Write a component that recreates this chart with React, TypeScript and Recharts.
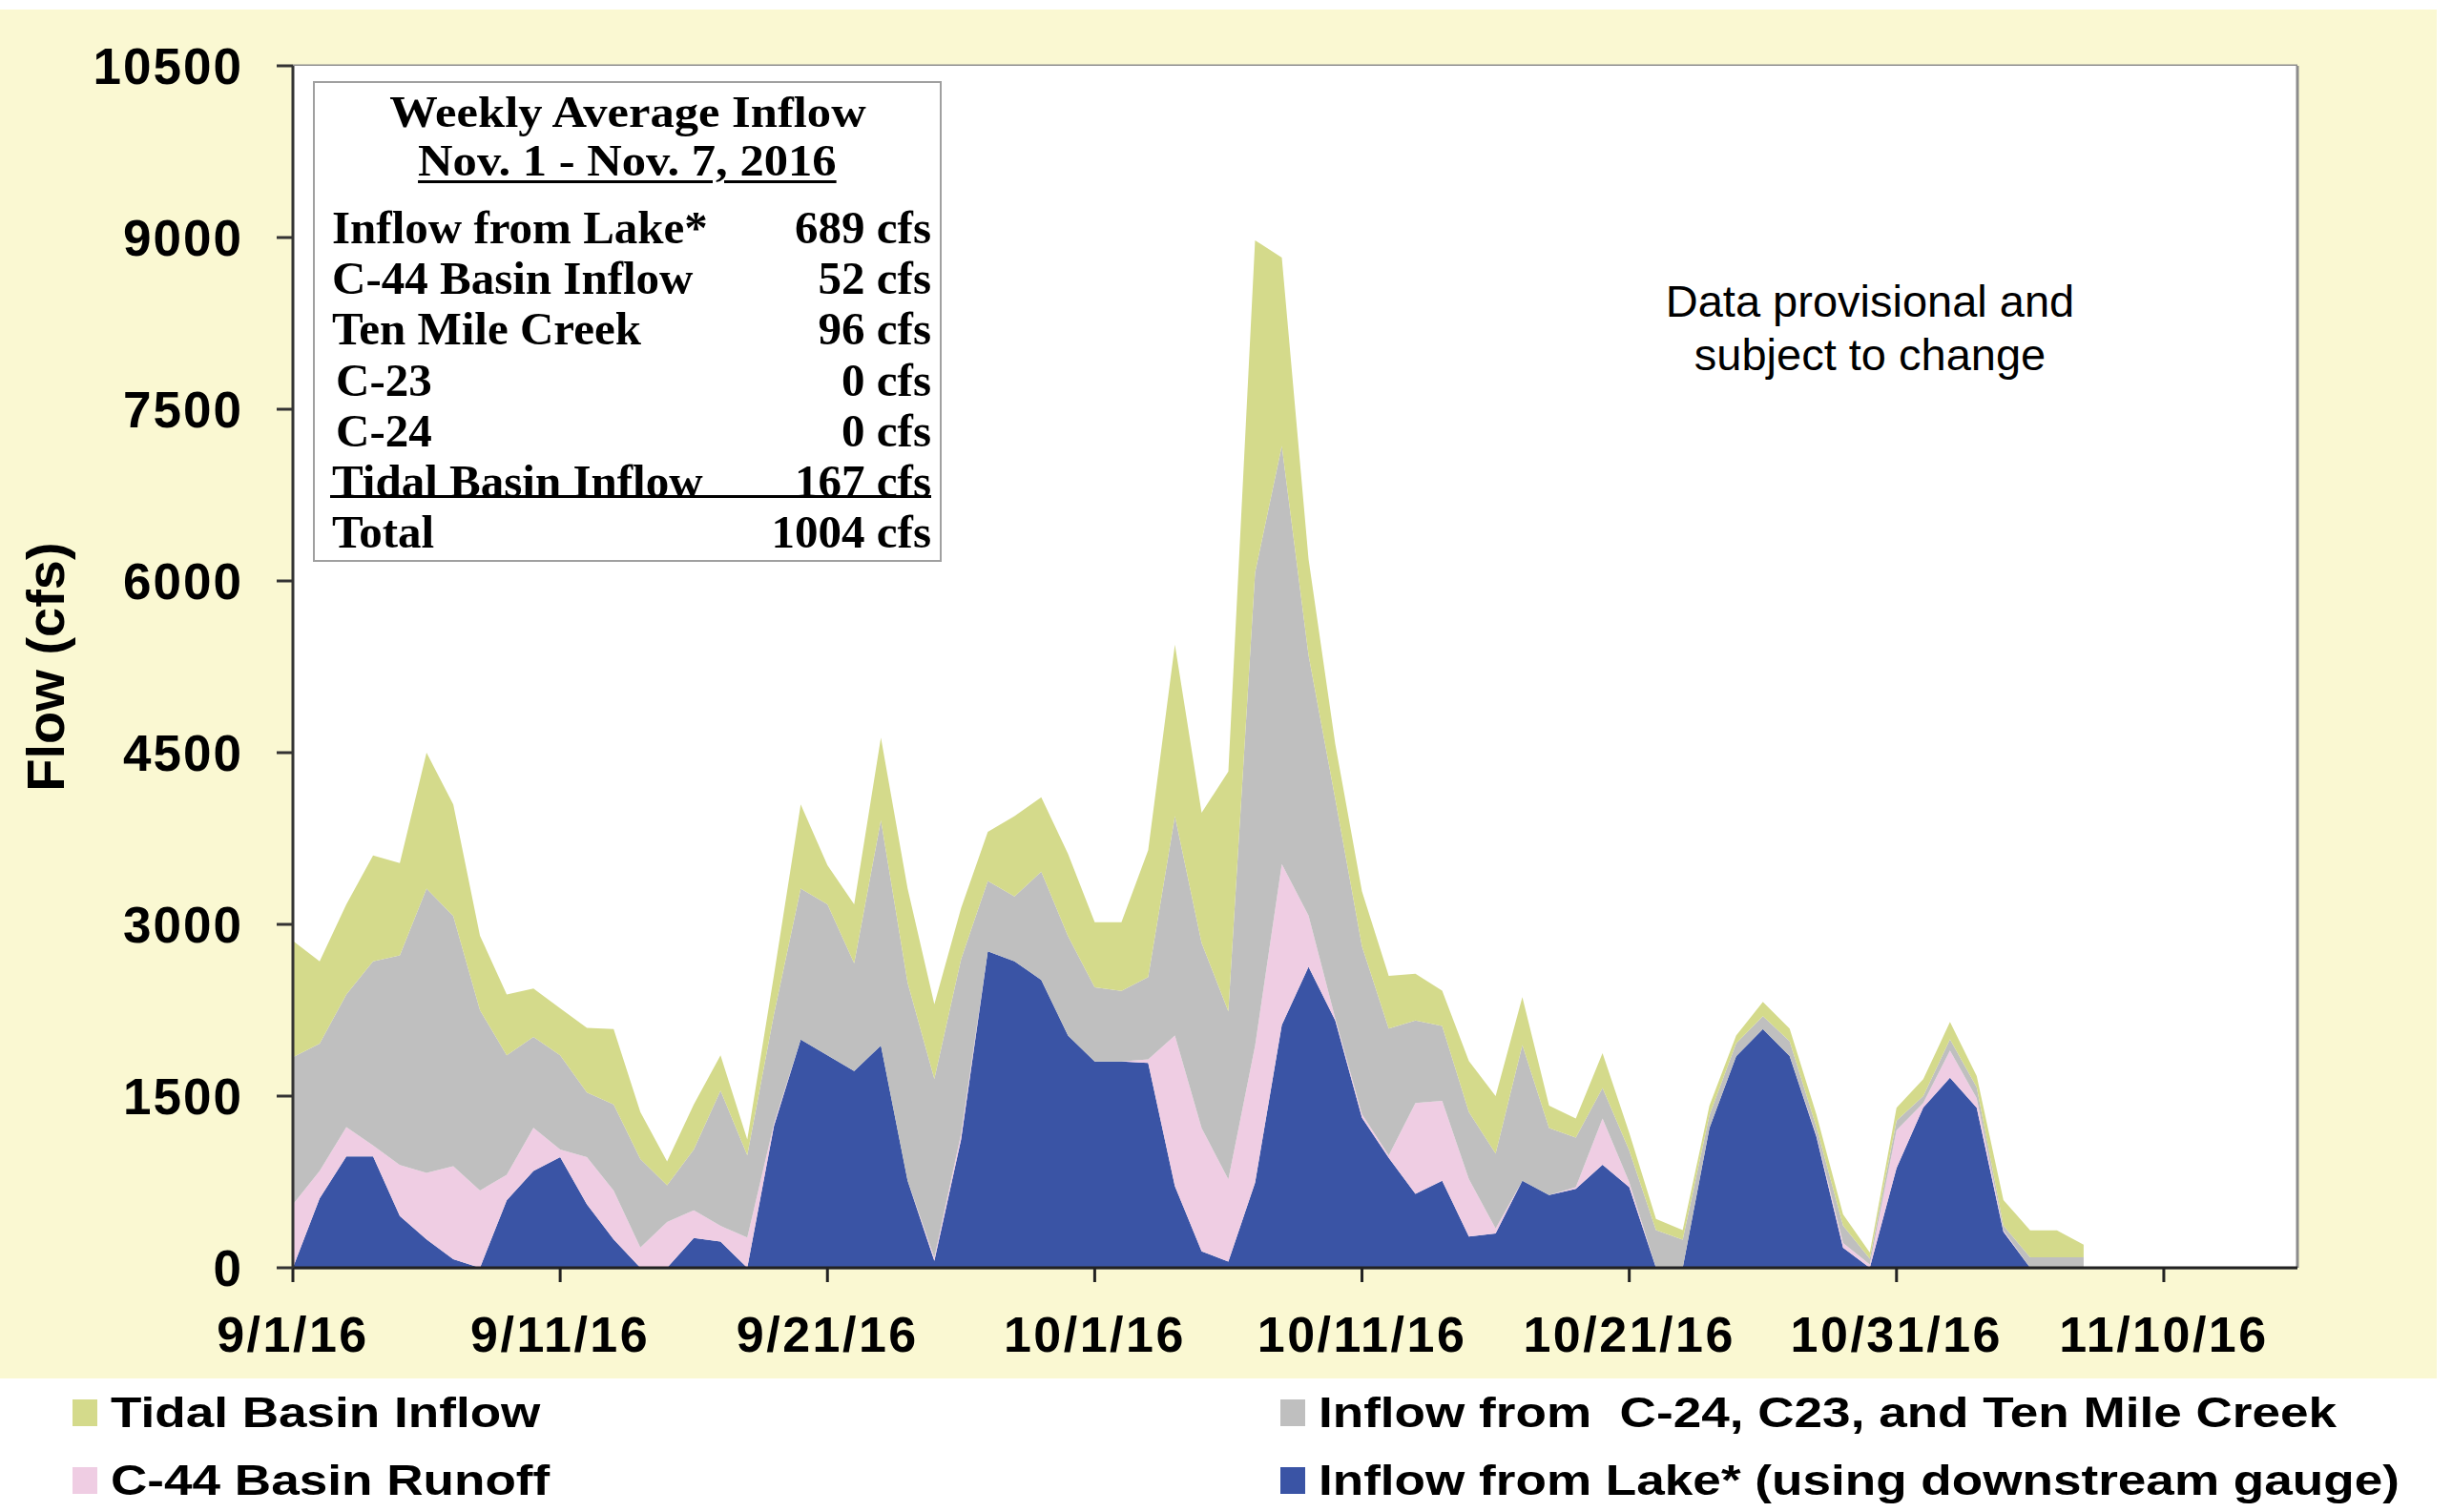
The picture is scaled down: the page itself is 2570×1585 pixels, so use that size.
import React from 'react';
import { AreaChart, Area, XAxis, YAxis, CartesianGrid, Legend, ReferenceLine } from 'recharts';

// Days since 9/1/16 (daily values, 9/1/16 .. 11/7/16)
const dayCount = 68;
const xTicks = [0, 10, 20, 30, 40, 50, 60, 70];
const xTickLabels = ['9/1/16', '9/11/16', '9/21/16', '10/1/16', '10/11/16', '10/21/16', '10/31/16', '11/10/16'];
const yTicks = [0, 1500, 3000, 4500, 6000, 7500, 9000, 10500];

// Series values (cfs)
const lakeInflow = [
  0, 606, 973, 973, 452, 247, 75, 0, 589, 846,
  966, 555, 247, 0, 0, 260, 229, 0, 1240, 1993,
  1856, 1719, 1942, 760, 60, 1120, 2764, 2678, 2515, 2030,
  1802, 1802, 1790, 713, 144, 54, 743, 2120, 2629, 2160,
  1311, 960, 645, 761, 273, 301, 761, 636, 690, 900,
  705, 0, 0, 1221, 1848, 2085, 1850, 1147, 175, 0,
  870, 1400, 1661, 1397, 314, 0, 0, 0,
];
const c44Runoff = [
  555, 240, 257, 96, 445, 582, 812, 675, 223, 377,
  68, 411, 428, 178, 400, 243, 137, 264, 20, 0,
  0, 0, 0, 0, 30, 51, 0, 0, 0, 0,
  0, 0, 30, 1317, 1077, 718, 1197, 1407, 449, 20,
  30, 22, 795, 697, 502, 42, 0, 0, 15, 405,
  42, 0, 0, 0, 0, 0, 0, 13, 42, 30,
  333, 40, 236, 84, 14, 0, 0, 0,
];
const c24c23TenMile = [
  1284, 1113, 1157, 1609, 1833, 2483, 2185, 1575, 1044, 794,
  822, 565, 753, 771, 320, 531, 1182, 719, 956, 1319,
  1319, 942, 1969, 1730, 1561, 1525, 616, 565, 945, 868,
  647, 617, 719, 1916, 1617, 1468, 4132, 3653, 2275, 1916,
  1467, 1108, 720, 655, 586, 655, 1185, 585, 433, 265,
  279, 329, 245, 112, 112, 112, 130, 71, 152, 50,
  83, 60, 98, 97, 41, 92, 92, 92,
];
const tidalInflow = [
  1017, 719, 788, 925, 805, 1188, 976, 651, 531, 422,
  411, 565, 658, 411, 210, 394, 308, 137, 342, 736,
  342, 514, 720, 822, 651, 445, 429, 703, 650, 719,
  569, 599, 1108, 1497, 1138, 2095, 2904, 1646, 839, 479,
  479, 461, 408, 307, 446, 502, 418, 195, 167, 306,
  153, 98, 84, 83, 70, 125, 110, 111, 98, 53,
  111, 147, 152, 97, 223, 236, 236, 111,
];

const weeklyTitle = 'Weekly Average Inflow';
const weeklyPeriod = 'Nov. 1 - Nov. 7, 2016';
const weeklyLabels = ['Inflow from Lake*', 'C-44 Basin Inflow', 'Ten Mile Creek', ' C-23', ' C-24', 'Tidal Basin Inflow', 'Total'];
const weeklyValues = [689, 52, 96, 0, 0, 167, 1004];

const COLORS = {
  lake: '#3A54A5',
  c44: '#EFCDE3',
  c24: '#BFBFBF',
  tidal: '#D4DA8B',
};

const seriesDefs = [
  { key: 'lake', name: 'Inflow from Lake* (using downstream gauge)', color: COLORS.lake },
  { key: 'c44', name: 'C-44 Basin Runoff', color: COLORS.c44 },
  { key: 'c24', name: 'Inflow from  C-24, C23, and Ten Mile Creek', color: COLORS.c24 },
  { key: 'tidal', name: 'Tidal Basin Inflow', color: COLORS.tidal },
];

const data = Array.from({ length: dayCount }, (_, i) => ({
  day: i,
  lake: lakeInflow[i],
  c44: c44Runoff[i],
  c24: c24c23TenMile[i],
  tidal: tidalInflow[i],
}));

const FONT = '"Liberation Sans", Arial, sans-serif';
const SERIF = '"Liberation Serif", "Times New Roman", serif';

// legend grid order: row1: tidal, c24 ; row2: c44, lake
const legendOrder = [
  { key: 'tidal', col: 0, row: 0 },
  { key: 'c24', col: 1, row: 0 },
  { key: 'c44', col: 0, row: 1 },
  { key: 'lake', col: 1, row: 1 },
];

const LegendContent = () => (
  <div style={{ position: 'relative', width: 2549, height: 140, background: '#ffffff' }}>
    {legendOrder.map((it) => {
      const s = seriesDefs.find((d) => d.key === it.key)!;
      const left = it.col === 0 ? 55 : 1321;
      const top = it.row === 0 ? 22 : 93;
      return (
        <div key={it.key} style={{ position: 'absolute', left, top, height: 28, display: 'flex', alignItems: 'center' }}>
          <div style={{ width: 26, height: 28, background: s.color, flex: 'none' }} />
          <span
            style={{
              marginLeft: 14,
              fontFamily: FONT,
              fontWeight: 700,
              fontSize: 45,
              color: '#000',
              whiteSpace: 'pre',
              display: 'inline-block',
              transform: 'scaleX(1.18)',
              transformOrigin: 'left center',
              lineHeight: '28px',
            }}
          >
            {s.name}
          </span>
        </div>
      );
    })}
  </div>
);

const YLabel = (props: any) => {
  const vb = props.viewBox || {};
  const cy = vb.y + vb.height / 2;
  return (
    <text
      x={47}
      y={cy}
      transform={`rotate(-90 47 ${cy})`}
      textAnchor="middle"
      dominantBaseline="central"
      fontFamily={FONT}
      fontWeight={700}
      fontSize={56}
      fill="#000"
    >
      Flow (cfs)
    </text>
  );
};

const headStyle: React.CSSProperties = {
  position: 'absolute',
  left: 0,
  width: '100%',
  textAlign: 'center',
  fontSize: 46,
  lineHeight: '46px',
};

const InfoBox = () => {
  const rowTop0 = 237 - 85;
  const rowStep = 53.2;
  return (
    <div
      style={{
        position: 'absolute',
        left: 328,
        top: 85,
        width: 659,
        height: 504,
        boxSizing: 'border-box',
        border: '2px solid #a0a0a0',
        background: '#ffffff',
        fontFamily: SERIF,
        fontWeight: 700,
        color: '#000',
      }}
    >
      <div style={{ ...headStyle, top: 31 - 23 }}>
        <span style={{ display: 'inline-block', transform: 'scaleX(1.1)' }}>{weeklyTitle}</span>
      </div>
      <div style={{ ...headStyle, top: 82 - 23 }}>
        <span
          style={{
            display: 'inline-block',
            transform: 'scaleX(1.1)',
            textDecoration: 'underline',
            textDecorationThickness: 3,
            textUnderlineOffset: 5,
          }}
        >
          {weeklyPeriod}
        </span>
      </div>
      {weeklyLabels.map((lab, i) => {
        const cy = rowTop0 + i * rowStep;
        const underline = i === 5;
        return (
          <div
            key={lab}
            style={{
              position: 'absolute',
              left: 16,
              width: 630,
              top: cy - 25,
              height: underline ? 42 : 50,
              lineHeight: '50px',
              fontSize: 49,
              display: 'flex',
              justifyContent: 'space-between',
              alignItems: 'flex-start',
              whiteSpace: 'pre',
              borderBottom: underline ? '3px solid #000' : 'none',
              boxSizing: 'border-box',
              overflow: 'visible',
            }}
          >
            <span style={{ marginLeft: lab.startsWith(' ') ? 6 : 2 }}>{lab.trim()}</span>
            <span>{weeklyValues[i]} cfs</span>
          </div>
        );
      })}
    </div>
  );
};

export default function App() {
  return (
    <div style={{ position: 'absolute', left: 0, top: 0, width: 2570, height: 1585, background: '#ffffff', overflow: 'hidden' }}>
      <div style={{ position: 'absolute', left: 0, top: 10, width: 2554, height: 1435, background: '#FAF8D2' }} />
      <div style={{ position: 'absolute', left: 0, top: 0 }}>
        <AreaChart
          width={2570}
          height={1585}
          data={data}
          margin={{ top: 69, right: 162, bottom: 136, left: 57 }}
        >
          <rect x={307} y={69} width={2101} height={1260} fill="#ffffff" />
          <CartesianGrid vertical={false} stroke="#8c8c8c" strokeWidth={3} fill="#ffffff" />
          <XAxis
            dataKey="day"
            type="number"
            domain={[0, 75]}
            ticks={xTicks}
            tickFormatter={(v: number) => xTickLabels[xTicks.indexOf(v)]}
            height={120}
            interval={0}
            stroke="#222"
            strokeWidth={3}
            tickSize={15}
            tickMargin={36}
            tick={{ fontSize: 52, fontWeight: 700, fill: '#000', fontFamily: FONT, letterSpacing: 2.5 }}
            allowDataOverflow
          />
          <YAxis
            type="number"
            domain={[0, 10500]}
            ticks={yTicks}
            width={250}
            interval={0}
            stroke="#333"
            strokeWidth={3}
            tickSize={17}
            tickMargin={35}
            tick={{ fontSize: 53, fontWeight: 700, fill: '#000', fontFamily: FONT, letterSpacing: 2 }}
            label={<YLabel />}
          />
          <ReferenceLine x={75} stroke="#8c8c8c" strokeWidth={3} ifOverflow="visible" />
          {seriesDefs.map((s) => (
            <Area
              key={s.key}
              type="linear"
              dataKey={s.key}
              name={s.name}
              stackId="1"
              stroke="none"
              fill={s.color}
              fillOpacity={1}
              isAnimationActive={false}
              dot={false}
              activeDot={false}
            />
          ))}
          <Legend
            layout="horizontal"
            verticalAlign="middle"
            align="center"
            content={<LegendContent />}
            wrapperStyle={{ position: 'absolute', left: 21, top: 1445, width: 2549, height: 140 }}
          />
        </AreaChart>
      </div>
      <InfoBox />
      <div
        style={{
          position: 'absolute',
          left: 1660,
          width: 600,
          top: 288,
          textAlign: 'center',
          fontFamily: FONT,
          fontSize: 47,
          lineHeight: '56px',
          color: '#000',
        }}
      >
        Data provisional and
        <br />
        subject to change
      </div>
    </div>
  );
}
